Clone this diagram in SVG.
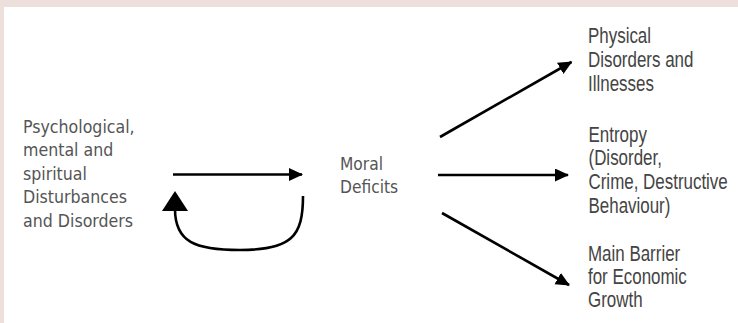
<svg xmlns="http://www.w3.org/2000/svg" width="738" height="323" viewBox="0 0 738 323">
  <style>
    .lt { font-family: "DejaVu Sans", Verdana, sans-serif; font-size: 17.4px; fill: #555; }
    .rt { font-family: "Liberation Sans", Arial, sans-serif; font-size: 22px; fill: #444; }
    .conn { stroke: #000; stroke-width: 2.6; fill: none; }
  </style>
  <defs>
    <marker id="ah" markerUnits="userSpaceOnUse" markerWidth="16" markerHeight="14" refX="13" refY="6.5" orient="auto">
      <path d="M0,0 L14,6.5 L0,13 z" fill="#000"/>
    </marker>
  </defs>
  <rect x="0" y="0" width="738" height="323" fill="#ecdfdc"/>
  <rect x="4" y="7" width="734" height="316" fill="#fff"/>

  <g id="node-disturbances">
    <text class="lt" transform="translate(23,0) scale(0.91,1)">
      <tspan x="0" y="133">Psychological,</tspan>
      <tspan x="0" y="156.4">mental and</tspan>
      <tspan x="0" y="179.8">spiritual</tspan>
      <tspan x="0" y="203.2">Disturbances</tspan>
      <tspan x="0" y="226.6">and Disorders</tspan>
    </text>
  </g>
  <g id="node-moral">
    <text class="lt" transform="translate(340,0) scale(0.89,1)">
      <tspan x="0" y="170">Moral</tspan>
      <tspan x="0" y="193">Deficits</tspan>
    </text>
  </g>
  <g id="node-physical">
    <text class="rt" transform="translate(588,0) scale(0.77,1)">
      <tspan x="0" y="43.5">Physical</tspan>
      <tspan x="0" y="67.5">Disorders and</tspan>
      <tspan x="0" y="91.5">Illnesses</tspan>
    </text>
  </g>
  <g id="node-entropy">
    <text class="rt" transform="translate(588.5,0) scale(0.77,1)">
      <tspan x="0" y="141.7">Entropy</tspan>
      <tspan x="0" y="165.5">(Disorder,</tspan>
      <tspan x="0" y="189.5">Crime, Destructive</tspan>
      <tspan x="0" y="213.3">Behaviour)</tspan>
    </text>
  </g>
  <g id="node-barrier">
    <text class="rt" transform="translate(588,0) scale(0.77,1)">
      <tspan x="0" y="261">Main Barrier</tspan>
      <tspan x="0" y="284">for Economic</tspan>
      <tspan x="0" y="307">Growth</tspan>
    </text>
  </g>

  <g id="connectors">
    <line class="conn" x1="173" y1="174.5" x2="302" y2="174.5" marker-end="url(#ah)"/>
    <path class="conn" stroke-width="3.6" d="M303,196 C303,236 292,250 240,250 C195,250 175,242 175,209"/>
    <polygon points="175,191 162,211 188,211" fill="#000"/>
    <line class="conn" x1="440" y1="137" x2="571.5" y2="62" marker-end="url(#ah)"/>
    <line class="conn" x1="438" y1="175" x2="568" y2="175" marker-end="url(#ah)"/>
    <line class="conn" x1="442" y1="213" x2="569" y2="285" marker-end="url(#ah)"/>
  </g>
</svg>
